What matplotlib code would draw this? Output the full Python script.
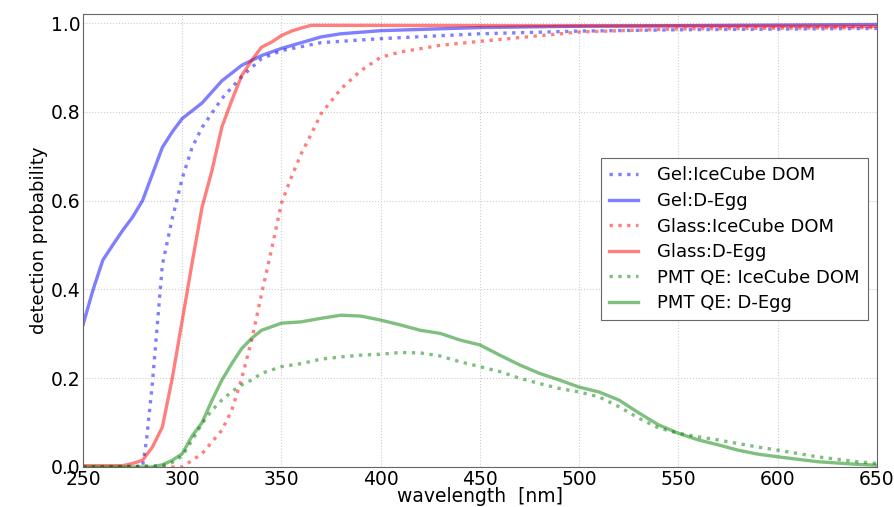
import matplotlib
matplotlib.use("Agg")
import matplotlib.pyplot as plt
import numpy as np

## Gel transmission
gel_dom_wl = [250, 270, 279, 280, 282, 285, 290, 295, 300, 305, 310, 320, 330, 340, 350, 370, 400, 450, 500, 550, 650]
gel_dom = [0.0, 0.0, 0.0, 0.0, 0.06, 0.19, 0.455, 0.56, 0.65, 0.72, 0.765, 0.83, 0.88, 0.92, 0.938, 0.956, 0.965, 0.976, 0.982, 0.985, 0.988]

gel_degg_wl = [250, 255, 260, 265, 270, 275, 280, 285, 290, 295, 300, 310, 320, 330, 340, 350, 360, 370, 380, 400, 450, 500, 650]
gel_degg = [0.32, 0.398, 0.466, 0.5, 0.533, 0.563, 0.60, 0.66, 0.72, 0.755, 0.785, 0.82, 0.87, 0.905, 0.927, 0.943, 0.956, 0.969, 0.976, 0.983, 0.99, 0.993, 0.997]

## Glass transmission
glass_dom_wl = [250, 300, 305, 310, 320, 325, 330, 335, 340, 345, 350, 355, 360, 365, 370, 380, 390, 400, 410, 430, 450, 500, 550, 650]
glass_dom = [0.0, 0.0, 0.015, 0.03, 0.083, 0.128, 0.2, 0.286, 0.39, 0.49, 0.594, 0.653, 0.706, 0.75, 0.796, 0.852, 0.893, 0.923, 0.935, 0.95, 0.959, 0.98, 0.987, 0.99]

glass_degg_wl = [250, 270, 275, 280, 285, 290, 295, 300, 305, 310, 315, 320, 325, 330, 335, 340, 345, 350, 355, 360, 365, 650]
glass_degg = [0.003, 0.003, 0.008, 0.015, 0.045, 0.09, 0.2, 0.33, 0.46, 0.585, 0.668, 0.766, 0.826, 0.882, 0.916, 0.946, 0.957, 0.972, 0.982, 0.989, 0.995, 0.993]

## PMT quantum efficiency
qe_dom_wl = [250, 290, 295, 300, 305, 310, 315, 320, 325, 330, 335, 340, 350, 360, 370, 380, 390, 400, 410, 420, 430, 440,
             450, 460, 470, 480, 490, 500, 510, 520, 530, 540, 550, 560, 570, 580, 590, 600, 620, 640, 650]
qe_dom = [0.0, 0.003, 0.01, 0.025, 0.06, 0.098, 0.128, 0.151, 0.17, 0.185, 0.196, 0.211, 0.226, 0.233, 0.243, 0.248, 0.252, 0.254, 0.258, 0.257, 0.25, 0.237,
          0.226, 0.215, 0.2, 0.188, 0.177, 0.169, 0.158, 0.136, 0.11, 0.088, 0.076, 0.068, 0.061, 0.053, 0.045, 0.038, 0.023, 0.012, 0.008]

qe_degg_wl = [250, 285, 290, 295, 300, 305, 310, 315, 320, 325, 330, 335, 340, 350, 360, 370, 380, 390, 400, 410, 420, 430, 440,
              450, 460, 470, 480, 490, 500, 510, 520, 530, 540, 550, 560, 570, 580, 590, 600, 620, 640, 650]
qe_degg = [0.0, 0.0, 0.005, 0.015, 0.03, 0.07, 0.1, 0.15, 0.196, 0.233, 0.267, 0.29, 0.308, 0.324, 0.327, 0.335, 0.342, 0.34, 0.331, 0.32, 0.308, 0.301, 0.286,
           0.275, 0.252, 0.23, 0.211, 0.196, 0.18, 0.169, 0.151, 0.122, 0.095, 0.076, 0.061, 0.05, 0.038, 0.029, 0.023, 0.012, 0.006, 0.004]

series = [
    (gel_dom_wl, gel_dom, "b", ":", "Gel:IceCube DOM"),
    (gel_degg_wl, gel_degg, "b", "-", "Gel:D-Egg"),
    (glass_dom_wl, glass_dom, "r", ":", "Glass:IceCube DOM"),
    (glass_degg_wl, glass_degg, "r", "-", "Glass:D-Egg"),
    (qe_dom_wl, qe_dom, "g", ":", "PMT QE: IceCube DOM"),
    (qe_degg_wl, qe_degg, "g", "-", "PMT QE: D-Egg"),
]

fig = plt.figure(figsize=(8.94, 5.07), dpi=100)
ax = fig.add_axes([0.0928, 0.0789, 0.888, 0.893])

for wl, val, color, ls, label in series:
    ax.plot(wl, val, color=color, linestyle=ls, linewidth=2.4, alpha=0.5, label=label)

ax.set_xlim(250, 650)
ax.set_ylim(0, 1.02)
ax.set_xticks(np.arange(250, 651, 50))
ax.set_yticks(np.arange(0, 1.01, 0.2))
ax.grid(True, linestyle=":", color="#cccccc", linewidth=0.8)
ax.tick_params(labelsize=13.5, length=0, pad=2)
for sp in ax.spines.values():
    sp.set_color("#666666")

ax.set_xlabel("wavelength  [nm]", fontsize=13.5, labelpad=-1)
ax.set_ylabel("detection probability", fontsize=13, labelpad=2)

leg = ax.legend(loc="upper right", bbox_to_anchor=(0.989, 0.682), borderaxespad=0,
                fontsize=13, fancybox=False, framealpha=1, edgecolor="#666666",
                handlelength=1.6, handletextpad=1.1, labelspacing=0.42,
                borderpad=0.45)
leg.get_frame().set_linewidth(0.8)

fig.savefig("out.png", dpi=100)
